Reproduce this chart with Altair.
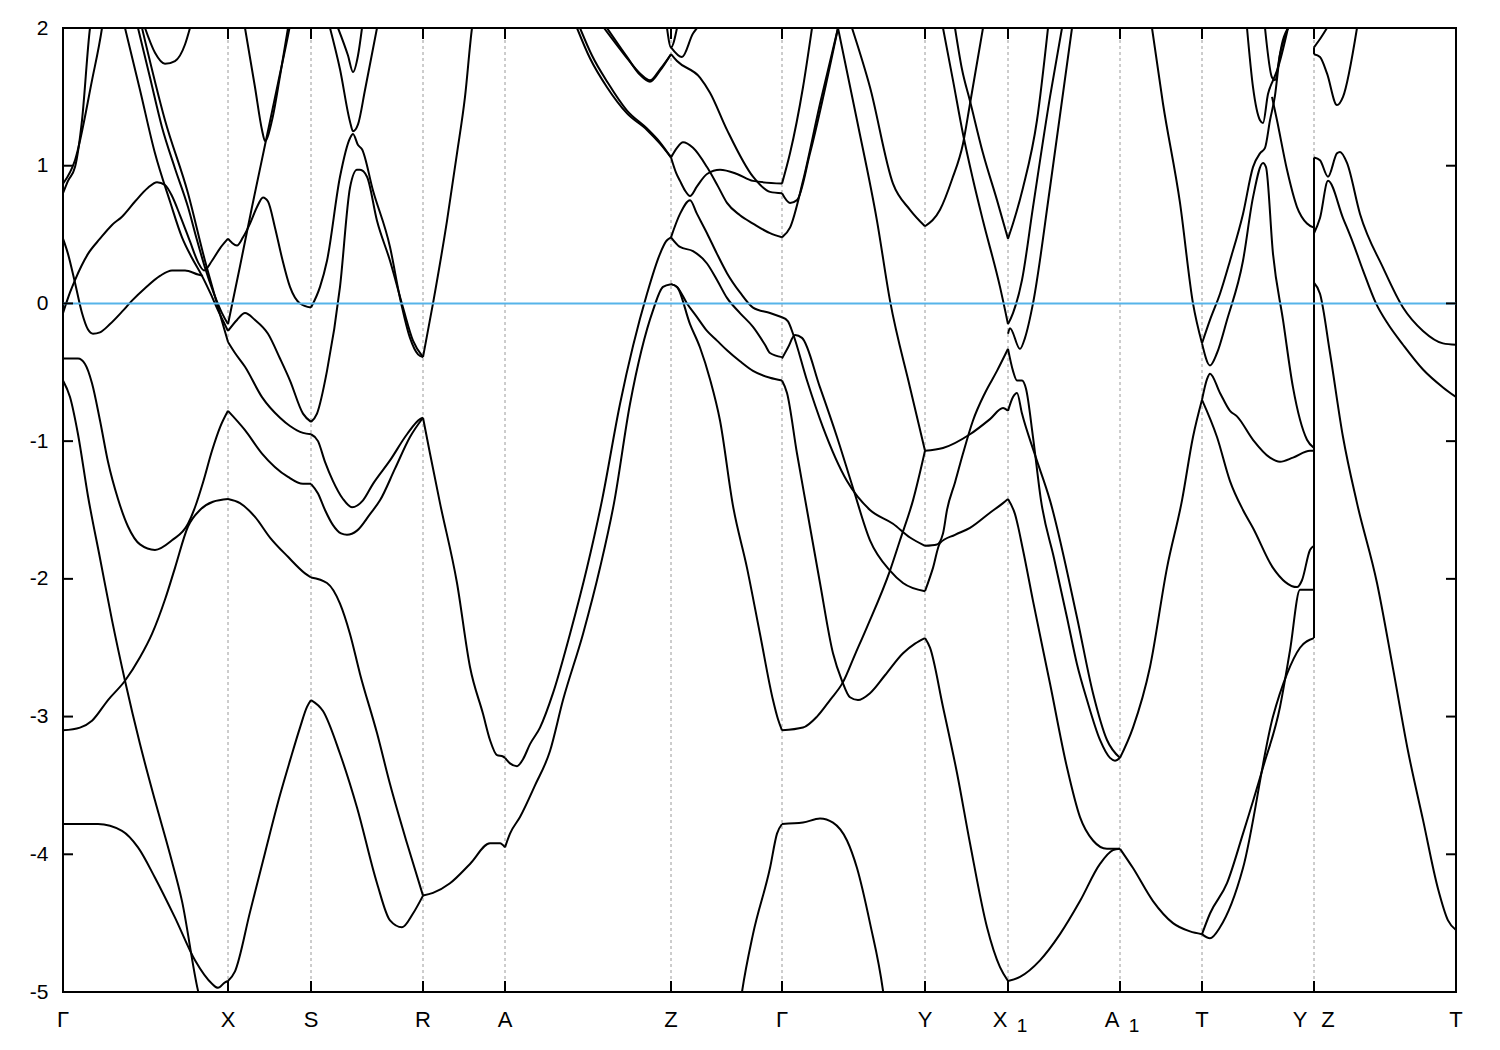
import altair as alt
import pandas as pd

FONT = "Liberation Sans"
W, H = 1393, 964

# ---------------- axis / path data ----------------
y_ticks = [-5, -4, -3, -2, -1, 0, 1, 2]
k_end = 13.93
sym_k = [0.00, 1.65, 2.48, 3.60, 4.42, 6.08, 7.19, 8.62, 9.45, 10.57, 11.39, 12.51, 13.93]
inner_k = [1.65, 2.48, 3.60, 4.42, 6.08, 7.19, 8.62, 9.45, 10.57, 11.39, 12.51]

plain_k = [0.00, 1.65, 2.48, 3.60, 4.42, 6.08, 7.19, 8.62, 11.39, 13.93]
plain_text = ["Γ", "X", "S", "R", "A", "Z", "Γ", "Y", "T", "T"]
subbed_k = [9.45, 10.57]
subbed_text = ["X", "A"]
sub_text = ["1", "1"]
pair_k = [12.51]

# ---------------- bands, segment by segment (k, E) ----------------
GX = [
    [(0.00, 0.80), (0.05, 0.89), (0.12, 0.99), (0.19, 1.33), (0.27, 2.00), (0.29, 2.10)],
    [(0.00, 0.87), (0.12, 1.04), (0.29, 1.62), (0.39, 2.00), (0.41, 2.10)],
    [(0.00, 0.47), (0.05, 0.36), (0.12, 0.15), (0.19, -0.07), (0.25, -0.19), (0.30, -0.22), (0.37, -0.21),
     (0.47, -0.15), (0.59, -0.06), (0.69, 0.02), (0.82, 0.11), (0.97, 0.20), (1.09, 0.24), (1.22, 0.24),
     (1.35, 0.21), (1.40, 0.20)],
    [(0.00, -0.07), (0.07, 0.08), (0.12, 0.17), (0.25, 0.36), (0.37, 0.47), (0.49, 0.57), (0.59, 0.63),
     (0.72, 0.74), (0.85, 0.84), (0.94, 0.88), (1.02, 0.86), (1.09, 0.78), (1.17, 0.64), (1.27, 0.45),
     (1.35, 0.30), (1.41, 0.24), (1.49, 0.31), (1.57, 0.40), (1.65, 0.47)],
    [(0.82, 2.00), (0.92, 1.82), (1.02, 1.74), (1.12, 1.76), (1.22, 1.88), (1.27, 2.00)],
    [(0.62, 2.00), (0.77, 1.55), (0.92, 1.09), (1.07, 0.74), (1.19, 0.48), (1.29, 0.33), (1.39, 0.20),
     (1.47, 0.08), (1.55, -0.05), (1.61, -0.14), (1.65, -0.20)],
    [(0.75, 2.00), (0.87, 1.64), (0.99, 1.28), (1.12, 0.98), (1.25, 0.70), (1.34, 0.46), (1.42, 0.26),
     (1.51, 0.07), (1.59, -0.07), (1.65, -0.15)],
    [(0.79, 2.00), (1.02, 1.33), (1.25, 0.80), (1.42, 0.31), (1.52, 0.05), (1.59, -0.13), (1.65, -0.28)],
    [(0.00, -0.40), (0.15, -0.40), (0.22, -0.44), (0.29, -0.58), (0.37, -0.85), (0.45, -1.15), (0.55, -1.42),
     (0.65, -1.62), (0.77, -1.75), (0.92, -1.79), (1.09, -1.72), (1.25, -1.60), (1.32, -1.48), (1.40, -1.30),
     (1.49, -1.07), (1.57, -0.90), (1.65, -0.78)],
    [(0.00, -3.10), (0.17, -3.08), (0.29, -3.03), (0.45, -2.88), (0.62, -2.74), (0.77, -2.57), (0.89, -2.40),
     (1.02, -2.15), (1.12, -1.92), (1.25, -1.62), (1.37, -1.50), (1.50, -1.44), (1.65, -1.42)],
    [(0.00, -0.56), (0.07, -0.68), (0.15, -0.95), (0.25, -1.40), (0.37, -1.85), (0.49, -2.30), (0.62, -2.74),
     (0.77, -3.20), (0.92, -3.61), (1.07, -4.00), (1.19, -4.34), (1.35, -4.99), (1.37, -5.05)],
    [(0.00, -3.78), (0.35, -3.78), (0.59, -3.83), (0.75, -3.95), (0.92, -4.17), (1.12, -4.46), (1.32, -4.77),
     (1.49, -4.94), (1.55, -4.97), (1.62, -4.93), (1.65, -4.92)],
]

XS = [
    [(1.65, 0.47), (1.69, 0.44), (1.74, 0.42), (1.80, 0.48), (1.87, 0.58), (1.94, 0.70), (2.00, 0.77),
     (2.05, 0.74), (2.12, 0.55), (2.19, 0.33), (2.27, 0.12), (2.37, 0.00), (2.48, -0.03)],
    [(1.65, -0.15), (1.77, 0.27), (1.89, 0.70), (2.02, 1.15), (2.15, 1.60), (2.27, 2.02), (2.29, 2.10)],
    [(1.82, 2.00), (1.92, 1.57), (1.99, 1.26), (2.02, 1.18), (2.09, 1.33), (2.17, 1.65), (2.25, 2.00)],
    [(1.65, -0.20), (1.74, -0.12), (1.82, -0.07), (1.92, -0.12), (2.05, -0.22), (2.17, -0.40), (2.27, -0.56),
     (2.40, -0.80), (2.48, -0.86)],
    [(1.65, -0.28), (1.72, -0.36), (1.82, -0.46), (1.99, -0.68), (2.17, -0.83), (2.27, -0.89), (2.40, -0.94),
     (2.48, -0.95)],
    [(1.65, -0.78), (1.82, -0.92), (1.99, -1.09), (2.25, -1.26), (2.40, -1.31), (2.48, -1.31)],
    [(1.65, -1.42), (1.77, -1.45), (1.92, -1.55), (2.07, -1.70), (2.25, -1.84), (2.42, -1.96), (2.48, -1.99)],
    [(1.65, -4.92), (1.72, -4.85), (1.87, -4.42), (2.02, -3.99), (2.17, -3.57), (2.27, -3.32), (2.37, -3.08),
     (2.44, -2.93), (2.48, -2.88)],
]

SR = [
    [(2.48, -0.03), (2.57, 0.12), (2.64, 0.31), (2.77, 0.92), (2.87, 1.20), (2.90, 1.23), (2.95, 1.15),
     (2.99, 1.12), (3.10, 0.82), (3.27, 0.41), (3.37, 0.04), (3.47, -0.25), (3.55, -0.37), (3.60, -0.39)],
    [(2.48, -0.86), (2.54, -0.80), (2.64, -0.49), (2.77, 0.12), (2.87, 0.84), (2.94, 0.97), (2.97, 0.97),
     (3.04, 0.92), (3.14, 0.60), (3.27, 0.31), (3.40, -0.03), (3.50, -0.27), (3.60, -0.39)],
    [(2.67, 2.00), (2.77, 1.70), (2.87, 1.32), (2.90, 1.25), (2.95, 1.30), (3.02, 1.55), (3.14, 2.00)],
    [(2.75, 2.00), (2.85, 1.80), (2.90, 1.68), (2.95, 1.80), (2.99, 2.00)],
    [(2.48, -0.95), (2.55, -1.00), (2.62, -1.15), (2.70, -1.29), (2.80, -1.42), (2.89, -1.48), (3.00, -1.43),
     (3.10, -1.31), (3.27, -1.14), (3.44, -0.95), (3.57, -0.84), (3.60, -0.83)],
    [(2.48, -1.31), (2.55, -1.38), (2.62, -1.50), (2.70, -1.61), (2.78, -1.67), (2.84, -1.68), (2.94, -1.65),
     (3.07, -1.53), (3.17, -1.43), (3.32, -1.20), (3.47, -0.97), (3.60, -0.83)],
    [(2.48, -1.99), (2.64, -2.03), (2.77, -2.18), (2.87, -2.40), (2.97, -2.69), (3.14, -3.12), (3.27, -3.49),
     (3.44, -3.92), (3.60, -4.30)],
    [(2.48, -2.88), (2.60, -2.96), (2.77, -3.27), (2.94, -3.66), (3.14, -4.21), (3.27, -4.48), (3.39, -4.53),
     (3.50, -4.43), (3.60, -4.30)],
]

RA = [
    [(3.60, -4.30), (3.70, -4.28), (3.87, -4.21), (4.07, -4.07), (4.27, -3.92), (4.37, -3.92), (4.42, -3.95)],
    [(3.60, -0.83), (3.67, -1.09), (3.77, -1.45), (3.94, -2.03), (4.07, -2.64), (4.20, -2.98), (4.27, -3.17),
     (4.34, -3.28), (4.40, -3.29), (4.42, -3.30)],
    [(3.60, -0.39), (3.70, 0.00), (3.84, 0.60), (3.94, 1.09), (4.02, 1.50), (4.09, 2.00), (4.11, 2.10)],
]

AZ = [
    [(4.42, -3.30), (4.47, -3.34), (4.54, -3.36), (4.60, -3.31), (4.67, -3.20), (4.77, -3.08), (4.90, -2.83),
     (5.07, -2.40), (5.24, -1.92), (5.39, -1.43), (5.57, -0.73), (5.84, 0.07), (5.97, 0.36), (6.03, 0.45),
     (6.08, 0.48)],
    [(4.42, -3.95), (4.47, -3.85), (4.57, -3.73), (4.72, -3.50), (4.87, -3.25), (5.00, -2.88), (5.20, -2.40),
     (5.37, -1.92), (5.51, -1.45), (5.67, -0.73), (5.90, -0.05), (6.00, 0.12), (6.08, 0.14)],
    [(5.14, 2.00), (5.27, 1.78), (5.44, 1.57), (5.64, 1.38), (5.84, 1.26), (5.97, 1.16), (6.08, 1.06)],
    [(5.17, 2.00), (5.29, 1.80), (5.45, 1.60), (5.64, 1.40), (5.84, 1.27), (5.97, 1.17), (6.08, 1.06)],
    [(5.44, 2.00), (5.64, 1.79), (5.77, 1.66), (5.87, 1.61), (5.97, 1.69), (6.08, 1.81)],
    [(5.41, 2.00), (5.62, 1.80), (5.77, 1.67), (5.87, 1.62), (5.97, 1.70), (6.08, 1.81)],
    [(6.04, 2.00), (6.08, 1.86), (6.14, 2.00)],
]

ZG = [
    [(6.08, 1.86), (6.19, 1.79), (6.30, 1.96), (6.34, 2.00)],
    [(6.08, 1.81), (6.14, 1.76), (6.37, 1.64), (6.47, 1.53), (6.64, 1.26), (6.90, 0.92), (7.07, 0.81),
     (7.19, 0.80)],
    [(6.08, 1.06), (6.14, 1.13), (6.20, 1.17), (6.30, 1.13), (6.44, 0.99), (6.55, 0.85), (6.64, 0.73),
     (6.77, 0.64), (6.90, 0.58), (7.07, 0.51), (7.19, 0.48)],
    [(6.08, 1.06), (6.13, 0.95), (6.17, 0.89), (6.22, 0.82), (6.27, 0.78), (6.34, 0.85), (6.44, 0.94),
     (6.57, 0.97), (6.74, 0.94), (6.90, 0.89), (7.19, 0.87)],
    [(6.08, 0.48), (6.17, 0.65), (6.27, 0.75), (6.34, 0.65), (6.44, 0.51), (6.54, 0.36), (6.64, 0.22),
     (6.77, 0.08), (6.90, -0.03), (7.07, -0.07), (7.19, -0.10)],
    [(6.08, 0.48), (6.17, 0.41), (6.30, 0.38), (6.44, 0.29), (6.54, 0.17), (6.64, 0.04), (6.77, -0.07),
     (6.90, -0.17), (7.02, -0.30), (7.07, -0.36), (7.19, -0.39)],
    [(6.08, 0.14), (6.14, 0.12), (6.24, 0.00), (6.34, -0.10), (6.44, -0.20), (6.54, -0.27), (6.64, -0.34),
     (6.77, -0.42), (6.90, -0.49), (7.07, -0.54), (7.19, -0.56)],
    [(6.08, 0.14), (6.14, 0.12), (6.27, -0.15), (6.37, -0.32), (6.47, -0.55), (6.57, -0.85), (6.70, -1.47),
     (6.84, -1.92), (6.97, -2.40), (7.10, -2.88), (7.15, -3.02), (7.19, -3.10)],
    [(6.77, -5.10), (6.79, -5.00), (6.90, -4.58), (7.07, -4.10), (7.14, -3.85), (7.19, -3.78)],
]

GY = [
    [(7.19, 0.87), (7.27, 1.09), (7.40, 1.57), (7.49, 2.00), (7.51, 2.10)],
    [(7.19, 0.80), (7.27, 0.73), (7.34, 0.75), (7.47, 1.09), (7.75, 2.00)],
    [(7.19, 0.48), (7.27, 0.55), (7.40, 0.89), (7.57, 1.45), (7.75, 2.00)],
    [(7.19, -0.10), (7.25, -0.13), (7.30, -0.22), (7.44, -0.56), (7.60, -0.90), (7.84, -1.29), (8.07, -1.50),
     (8.30, -1.60), (8.47, -1.70), (8.62, -1.76)],
    [(7.19, -0.40), (7.25, -0.32), (7.32, -0.23), (7.39, -0.25), (7.57, -0.61), (7.74, -0.97), (7.90, -1.34),
     (8.07, -1.72), (8.27, -1.94), (8.40, -2.03), (8.62, -2.09)],
    [(7.19, -0.56), (7.24, -0.65), (7.34, -1.09), (7.44, -1.50), (7.57, -2.03), (7.70, -2.54), (7.79, -2.74),
     (7.87, -2.86), (7.95, -2.88), (8.07, -2.83), (8.22, -2.70), (8.40, -2.54), (8.52, -2.47), (8.62, -2.43)],
    [(7.19, -3.10), (7.40, -3.08), (7.54, -3.00), (7.67, -2.88), (7.80, -2.75), (7.92, -2.55), (8.04, -2.35),
     (8.27, -1.94), (8.37, -1.72), (8.50, -1.43), (8.62, -1.07)],
    [(7.75, 2.00), (7.94, 1.33), (8.14, 0.60), (8.27, 0.02), (8.47, -0.61), (8.62, -1.07)],
    [(7.89, 2.00), (8.07, 1.57), (8.30, 0.87), (8.47, 0.68), (8.62, 0.56)],
    [(7.19, -3.78), (7.40, -3.77), (7.57, -3.74), (7.70, -3.77), (7.84, -3.90), (7.94, -4.10), (8.07, -4.50),
     (8.20, -4.99), (8.22, -5.10)],
]

YX = [
    [(8.62, 0.56), (8.77, 0.68), (8.89, 0.90), (9.00, 1.16), (9.07, 1.45), (9.20, 2.00)],
    [(8.80, 2.00), (8.90, 1.62), (9.00, 1.23), (9.10, 0.90), (9.20, 0.60), (9.37, 0.12), (9.45, -0.15)],
    [(8.92, 2.00), (8.99, 1.70), (9.07, 1.47), (9.20, 1.09), (9.34, 0.75), (9.45, 0.47)],
    [(8.62, -1.07), (8.80, -1.05), (9.07, -0.95), (9.27, -0.84), (9.40, -0.76), (9.45, -0.78)],
    [(8.62, -2.09), (8.70, -1.92), (8.77, -1.74), (8.92, -1.68), (9.07, -1.63), (9.27, -1.52), (9.40, -1.45),
     (9.45, -1.42)],
    [(8.62, -1.76), (8.74, -1.75), (8.80, -1.67), (8.84, -1.50), (8.92, -1.30), (9.00, -1.09), (9.10, -0.85),
     (9.22, -0.65), (9.34, -0.49), (9.45, -0.33)],
    [(8.62, -2.43), (8.67, -2.50), (8.80, -2.93), (8.94, -3.41), (9.07, -3.92), (9.24, -4.53), (9.37, -4.82),
     (9.45, -4.92)],
]

XA = [
    [(9.45, 0.47), (9.50, 0.58), (9.60, 0.84), (9.74, 1.33), (9.85, 2.00)],
    [(9.45, -0.15), (9.50, -0.07), (9.59, 0.17), (9.70, 0.70), (9.87, 1.50), (9.99, 2.00)],
    [(9.45, -0.22), (9.47, -0.18), (9.57, -0.33), (9.62, -0.25), (9.70, 0.00), (9.87, 0.84), (10.09, 2.00)],
    [(9.45, -0.33), (9.50, -0.49), (9.54, -0.56), (9.59, -0.56), (9.63, -0.62), (9.70, -0.97), (9.78, -1.43),
     (9.91, -1.85), (10.04, -2.28), (10.14, -2.62), (10.24, -2.88), (10.37, -3.17), (10.47, -3.30),
     (10.52, -3.32), (10.57, -3.30)],
    [(9.45, -0.78), (9.50, -0.68), (9.54, -0.65), (9.59, -0.80), (9.72, -1.10), (9.87, -1.43), (10.14, -2.28),
     (10.30, -2.83), (10.44, -3.17), (10.57, -3.30)],
    [(9.45, -1.42), (9.52, -1.53), (9.60, -1.79), (9.70, -2.16), (9.87, -2.76), (10.04, -3.37), (10.17, -3.73),
     (10.30, -3.90), (10.44, -3.96), (10.57, -3.96)],
    [(9.45, -4.92), (9.57, -4.89), (9.77, -4.77), (9.97, -4.58), (10.17, -4.34), (10.37, -4.07), (10.50, -3.97),
     (10.57, -3.96)],
]

AT = [
    [(10.57, -3.30), (10.70, -3.08), (10.87, -2.64), (11.04, -1.92), (11.19, -1.43), (11.30, -0.97),
     (11.39, -0.70)],
    [(10.57, -3.96), (10.70, -4.10), (10.90, -4.34), (11.10, -4.50), (11.27, -4.56), (11.39, -4.58)],
    [(10.89, 2.00), (11.00, 1.45), (11.17, 0.73), (11.30, 0.00), (11.39, -0.29)],
]

TY = [
    [(11.39, -0.29), (11.47, -0.45), (11.54, -0.36), (11.64, -0.12), (11.80, 0.31), (11.90, 0.77),
     (12.00, 1.02), (12.03, 0.99), (12.10, 0.36), (12.20, -0.12), (12.30, -0.61), (12.44, -0.99),
     (12.51, -1.05)],
    [(11.39, -0.29), (11.47, -0.12), (11.57, 0.07), (11.67, 0.31), (11.80, 0.65), (11.90, 0.99), (11.97, 1.09),
     (12.02, 1.13), (12.07, 1.33), (12.12, 1.51), (12.17, 1.81), (12.25, 2.00)],
    [(11.84, 2.00), (11.90, 1.57), (11.97, 1.33), (12.00, 1.31), (12.05, 1.52), (12.10, 1.62), (12.14, 1.69),
     (12.25, 2.00)],
    [(12.02, 2.00), (12.09, 1.64), (12.12, 1.62), (12.17, 1.81), (12.25, 2.00)],
    [(12.09, 1.50), (12.14, 1.33), (12.24, 0.97), (12.34, 0.70), (12.44, 0.58), (12.51, 0.55)],
    [(11.39, -0.70), (11.44, -0.55), (11.47, -0.51), (11.57, -0.65), (11.67, -0.78), (11.74, -0.82),
     (11.90, -0.99), (12.07, -1.12), (12.17, -1.15), (12.30, -1.12), (12.47, -1.07), (12.51, -1.07)],
    [(11.39, -0.70), (11.54, -0.97), (11.67, -1.29), (11.80, -1.50), (11.90, -1.63), (12.10, -1.92),
     (12.34, -2.06), (12.39, -2.01), (12.47, -1.79), (12.51, -1.76)],
    [(11.39, -4.58), (11.47, -4.43), (11.64, -4.21), (11.80, -3.85), (12.00, -3.37), (12.17, -2.93),
     (12.27, -2.52), (12.37, -2.08), (12.51, -2.08)],
    [(11.39, -4.58), (11.47, -4.61), (11.57, -4.53), (11.80, -4.10), (12.10, -3.00), (12.24, -2.69),
     (12.37, -2.50), (12.51, -2.43)],
]

# vertical joins at the Y|Z discontinuity
YZ_k = [12.51, 12.51]
YZ_E_main = [1.06, -2.43]
YZ_E_top = [1.86, 1.81]

ZT = [
    [(12.51, 1.86), (12.57, 1.92), (12.64, 2.00)],
    [(12.51, 1.81), (12.57, 1.79), (12.64, 1.67), (12.74, 1.44), (12.80, 1.50), (12.94, 2.00)],
    [(12.51, 1.06), (12.57, 1.04), (12.65, 0.92), (12.74, 1.09), (12.77, 1.10), (12.84, 1.02), (12.97, 0.65),
     (13.20, 0.26), (13.40, -0.03), (13.60, -0.20), (13.80, -0.29), (13.93, -0.30)],
    [(12.51, 0.51), (12.57, 0.62), (12.65, 0.89), (12.80, 0.62), (12.90, 0.44), (13.00, 0.24), (13.13, 0.00),
     (13.25, -0.15), (13.40, -0.30), (13.60, -0.48), (13.80, -0.61), (13.93, -0.68)],
    [(12.51, 0.15), (12.57, 0.07), (12.67, -0.36), (12.80, -0.97), (12.94, -1.45), (13.14, -2.03),
     (13.30, -2.65), (13.45, -3.25), (13.60, -3.75), (13.75, -4.25), (13.85, -4.48), (13.93, -4.55)],
]

segments = [GX, XS, SR, RA, AZ, ZG, GY, YX, XA, AT, TY, ZT]

rows = []
cid = 0
for seg in segments:
    for curve in seg:
        for i, (k, e) in enumerate(curve):
            rows.append({"k": k, "E": e, "curve": cid, "i": i})
        cid += 1
bands_df = pd.DataFrame(rows)

yz_df = pd.DataFrame({
    "k": YZ_k + YZ_k,
    "E": YZ_E_main + YZ_E_top,
    "curve": [0, 0, 1, 1],
    "i": [0, 1, 0, 1],
})

xs = alt.Scale(domain=[0, k_end], nice=False, zero=False)
ys = alt.Scale(domain=[-5, 2], nice=False, zero=False)
yax = alt.Axis(values=y_ticks, ticks=False, domain=False, grid=False, title=None,
               labelFont=FONT, labelFontSize=21, labelColor="black", labelPadding=15,
               labelExpr="'' + datum.value")

# dashed guide lines at inner high-symmetry points
guides = alt.Chart(pd.DataFrame({"k": inner_k})).mark_rule(
    color="#9a9a9a", strokeWidth=1, strokeDash=[3, 3]
).encode(x=alt.X("k:Q", scale=xs, axis=None), y=alt.value(0), y2=alt.value(H))

bands = alt.Chart(bands_df).mark_line(
    color="black", strokeWidth=2, clip=True, interpolate="monotone"
).encode(
    x=alt.X("k:Q", scale=xs, axis=None),
    y=alt.Y("E:Q", scale=ys, axis=yax),
    detail="curve:N",
    order="i:Q",
)

yz = alt.Chart(yz_df).mark_line(color="black", strokeWidth=2, clip=True).encode(
    x=alt.X("k:Q", scale=xs, axis=None),
    y=alt.Y("E:Q", scale=ys, axis=yax),
    detail="curve:N",
    order="i:Q",
)

fermi = alt.Chart(pd.DataFrame({"E": [0]})).mark_rule(color="#56b4e9", strokeWidth=2).encode(
    y=alt.Y("E:Q", scale=ys, axis=yax), x=alt.value(0), x2=alt.value(W))

tick_df = pd.DataFrame({"E": y_ticks})
ytick_l = alt.Chart(tick_df).mark_rule(color="black", strokeWidth=2).encode(
    y=alt.Y("E:Q", scale=ys, axis=yax), x=alt.value(0), x2=alt.value(10))
ytick_r = alt.Chart(tick_df).mark_rule(color="black", strokeWidth=2).encode(
    y=alt.Y("E:Q", scale=ys, axis=yax), x=alt.value(W - 10), x2=alt.value(W))

ksym_df = pd.DataFrame({"k": sym_k})
xtick_t = alt.Chart(ksym_df).mark_rule(color="black", strokeWidth=2).encode(
    x=alt.X("k:Q", scale=xs, axis=None), y=alt.value(0), y2=alt.value(11))
xtick_b = alt.Chart(ksym_df).mark_rule(color="black", strokeWidth=2).encode(
    x=alt.X("k:Q", scale=xs, axis=None), y=alt.value(H - 11), y2=alt.value(H))

LY = H + 28
FS = 22
lab_plain = alt.Chart(pd.DataFrame({"k": plain_k, "t": plain_text})).mark_text(
    font=FONT, fontSize=FS, baseline="middle", align="center", color="black"
).encode(x=alt.X("k:Q", scale=xs, axis=None), y=alt.value(LY), text="t:N")

lab_main_sub = alt.Chart(pd.DataFrame({"k": subbed_k, "t": subbed_text})).mark_text(
    font=FONT, fontSize=FS, baseline="middle", align="center", color="black", dx=-8
).encode(x=alt.X("k:Q", scale=xs, axis=None), y=alt.value(LY), text="t:N")

lab_sub = alt.Chart(pd.DataFrame({"k": subbed_k, "t": sub_text})).mark_text(
    font=FONT, fontSize=19, baseline="middle", align="center", color="black", dx=14, dy=6
).encode(x=alt.X("k:Q", scale=xs, axis=None), y=alt.value(LY), text="t:N")

lab_y = alt.Chart(pd.DataFrame({"k": pair_k, "t": ["Y"]})).mark_text(
    font=FONT, fontSize=FS, baseline="middle", align="center", color="black", dx=-14
).encode(x=alt.X("k:Q", scale=xs, axis=None), y=alt.value(LY), text="t:N")

lab_z = alt.Chart(pd.DataFrame({"k": pair_k, "t": ["Z"]})).mark_text(
    font=FONT, fontSize=FS, baseline="middle", align="center", color="black", dx=14
).encode(x=alt.X("k:Q", scale=xs, axis=None), y=alt.value(LY), text="t:N")

chart = alt.layer(
    guides, bands, yz, fermi, ytick_l, ytick_r, xtick_t, xtick_b,
    lab_plain, lab_main_sub, lab_sub, lab_y, lab_z
).properties(
    width=W, height=H,
    autosize=alt.AutoSizeParams(type="none"),
    padding={"left": 55, "top": 20, "right": 36, "bottom": 50},
).configure_view(stroke="black", strokeWidth=2)

chart.save("out.html", embed_options={"renderer": "svg", "actions": False})
